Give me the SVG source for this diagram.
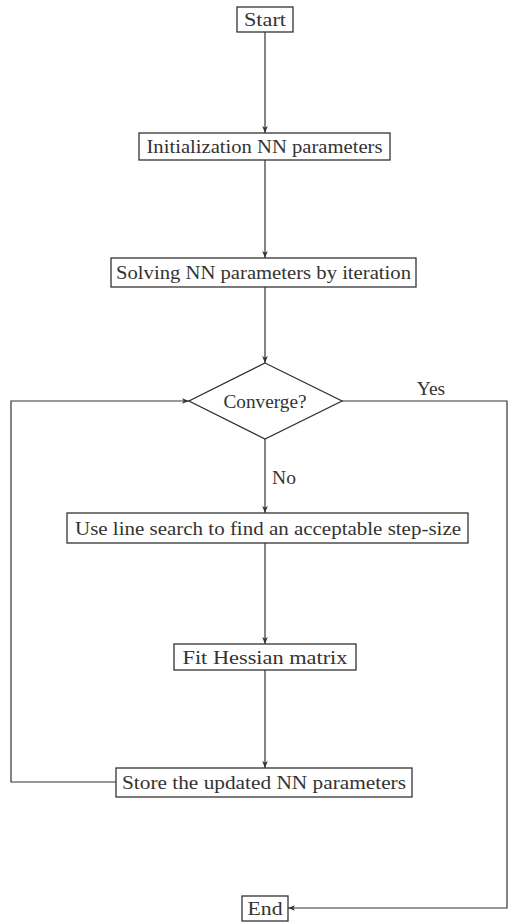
<svg xmlns="http://www.w3.org/2000/svg" width="508" height="924" viewBox="0 0 508 924">
<style>
.box{fill:#fff;stroke:#333;stroke-width:1.3}
.t{font-family:"Liberation Serif","DejaVu Serif",serif;font-size:19.5px;fill:#333;text-anchor:middle}
.c{fill:none;stroke:#333;stroke-width:1.2}
</style>
<defs>
<marker id="ah" viewBox="0 0 10 10" refX="10" refY="5" markerWidth="7" markerHeight="7" markerUnits="userSpaceOnUse" orient="auto">
<path d="M0,1 L10,5 L0,9 L2.5,5 Z" fill="#333"/>
</marker>
</defs>
<rect width="508" height="924" fill="#fff"/>
<g id="connectors">
<line class="c" x1="265" y1="32" x2="265" y2="133" marker-end="url(#ah)"/>
<line class="c" x1="265" y1="160" x2="265" y2="258" marker-end="url(#ah)"/>
<line class="c" x1="265" y1="287" x2="265" y2="363" marker-end="url(#ah)"/>
<line class="c" x1="265" y1="439" x2="265" y2="513" marker-end="url(#ah)"/>
<line class="c" x1="265" y1="543" x2="265" y2="644" marker-end="url(#ah)"/>
<line class="c" x1="265" y1="670" x2="265" y2="768" marker-end="url(#ah)"/>
<polyline class="c" points="116,782 11,782 11,401 189,401" marker-end="url(#ah)"/>
<polyline class="c" points="342,401 507,401 507,908 288,908" marker-end="url(#ah)"/>
<text class="t" x="431" y="395">Yes</text>
<text class="t" x="284" y="484">No</text>
</g>
<g id="start">
<rect class="box" x="237" y="7" width="56" height="25"/>
<text class="t" x="265" y="26" textLength="42" lengthAdjust="spacingAndGlyphs">Start</text>
</g>
<g id="init">
<rect class="box" x="139" y="133" width="251" height="27"/>
<text class="t" x="264.5" y="153" textLength="236" lengthAdjust="spacingAndGlyphs">Initialization NN parameters</text>
</g>
<g id="solving">
<rect class="box" x="111" y="258" width="305" height="29"/>
<text class="t" x="263.5" y="279" textLength="295" lengthAdjust="spacingAndGlyphs">Solving NN parameters by iteration</text>
</g>
<g id="converge">
<polygon class="box" points="265,363 342,401 265,439 189,401"/>
<text class="t" x="265" y="408" textLength="83" lengthAdjust="spacingAndGlyphs">Converge?</text>
</g>
<g id="linesearch">
<rect class="box" x="67" y="513" width="401" height="30"/>
<text class="t" x="268" y="535" textLength="386" lengthAdjust="spacingAndGlyphs">Use line search to find an acceptable step-size</text>
</g>
<g id="hessian">
<rect class="box" x="174" y="644" width="182" height="26"/>
<text class="t" x="265" y="664" textLength="165" lengthAdjust="spacingAndGlyphs">Fit Hessian matrix</text>
</g>
<g id="store">
<rect class="box" x="116" y="768" width="296" height="29"/>
<text class="t" x="264" y="789" textLength="284" lengthAdjust="spacingAndGlyphs">Store the updated NN parameters</text>
</g>
<g id="end">
<rect class="box" x="242" y="896" width="46" height="25"/>
<text class="t" x="265" y="915" textLength="35" lengthAdjust="spacingAndGlyphs">End</text>
</g>
</svg>
